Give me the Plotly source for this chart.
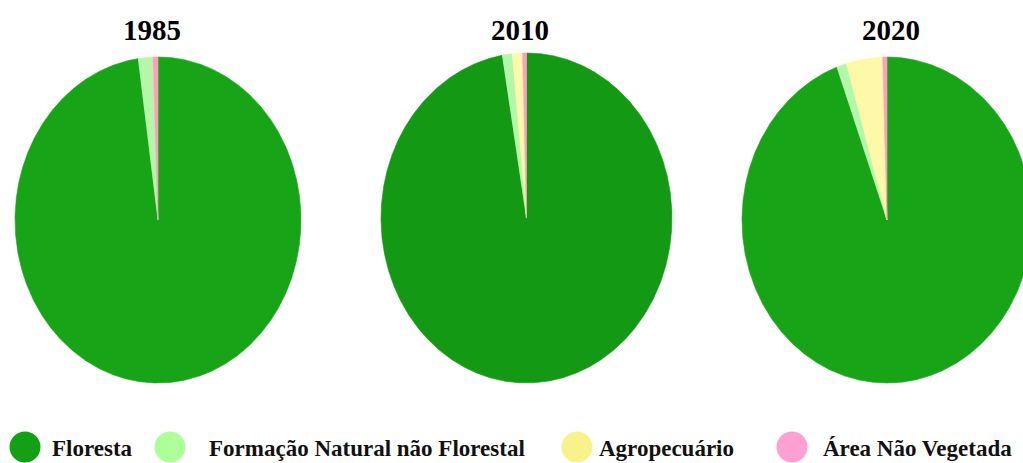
import numpy as np
import plotly.graph_objects as go

# Land-cover share (%) per year
years = ["1985", "2010", "2020"]
floresta = [97.75, 97.3, 94.3]
formacao_natural = [1.6, 1.1, 1.1]
agropecuario = [0.0, 1.1, 4.0]
area_nao_vegetada = [0.65, 0.5, 0.55]

classes = ["Floresta", "Formação Natural não Florestal", "Agropecuário", "Área Não Vegetada"]

# Styling
slice_colors = ["#17a417", "#b4f7a8", "#fdf9a9", "#ff9fbd"]
floresta_shade = ["#17a417", "#139913", "#17a417"]
legend_colors = ["#14a014", "#adff99", "#f7f38a", "#ffa0d2"]

# Pie geometry in page pixels (center x, center y, half-width, half-height)
pie_geom = [(158, 220, 143, 163), (526.5, 218, 145.5, 165), (887, 220, 145, 163)]
title_x = [152, 520, 891]
W, H = 1023, 463

fig = go.Figure()


def wedge(cx, cy, a, b, t0, t1):
    n = max(4, int(np.ceil((t1 - t0) / (np.pi / 720))))
    t = np.linspace(t0, t1, n)
    xs = np.concatenate([[cx], cx + a * np.sin(t), [cx]])
    ys = np.concatenate([[cy], cy - b * np.cos(t), [cy]])
    return xs, ys


for i, yr in enumerate(years):
    vals = [floresta[i], formacao_natural[i], agropecuario[i], area_nao_vegetada[i]]
    total = sum(vals)
    cx, cy, a, b = pie_geom[i]
    start = 0.0
    for k, v in enumerate(vals):
        span = 2 * np.pi * v / total
        if v > 0:
            xs, ys = wedge(cx, cy, a, b, start, start + span)
            col = floresta_shade[i] if k == 0 else slice_colors[k]
            fig.add_trace(go.Scatter(
                x=xs, y=ys, mode="lines", fill="toself",
                fillcolor=col, line=dict(color=col, width=0.6),
                hoverinfo="text", text=f"{yr} – {classes[k]}: {v}%",
                showlegend=False,
            ))
        start += span
    fig.add_annotation(x=title_x[i], y=30, text=f"<b>{yr}</b>", showarrow=False,
                       font=dict(family="Liberation Serif", size=29, color="black"),
                       xanchor="center", yanchor="middle")

# Legend row
legend_marker_x = [25, 170, 577, 792]
legend_text_x = [50, 207, 597, 821]
legend_y = 447
fig.add_trace(go.Scatter(
    x=legend_marker_x, y=[legend_y] * 4, mode="markers",
    marker=dict(size=31, color=legend_colors, line=dict(width=0)),
    hoverinfo="skip", showlegend=False,
))
for k, name in enumerate(classes):
    fig.add_annotation(x=legend_text_x[k], y=legend_y + 1, text=f"<b>{name}</b>", showarrow=False,
                       font=dict(family="Liberation Serif", size=23, color="#111111"),
                       xanchor="left", yanchor="middle")

fig.update_layout(
    width=W, height=H,
    margin=dict(l=0, r=0, t=0, b=0),
    paper_bgcolor="white", plot_bgcolor="white",
    xaxis=dict(range=[0, W], visible=False, fixedrange=True),
    yaxis=dict(range=[H, 0], visible=False, fixedrange=True),
    showlegend=False,
)

fig.write_html("out.html")
